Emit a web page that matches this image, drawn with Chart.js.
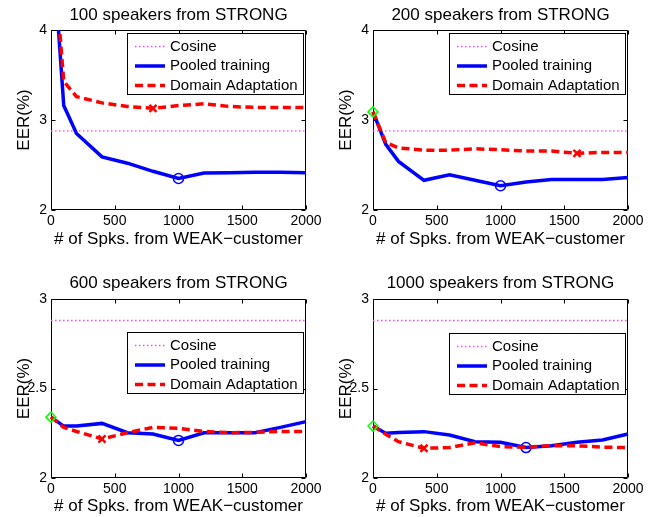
<!DOCTYPE html>
<html>
<head>
<meta charset="utf-8">
<script src="https://cdn.jsdelivr.net/npm/chart.js@4.4.1/dist/chart.umd.min.js"></script>
<style>
  html, body { margin: 0; padding: 0; background: #fff; }
  #wrap { position: relative; width: 657px; height: 517px; }
  #wrap canvas { position: absolute; }
</style>
</head>
<body>
<div id="wrap">
  <canvas id="c100" width="328" height="258" style="left:0;top:0"></canvas>
  <canvas id="c200" width="329" height="258" style="left:328px;top:0"></canvas>
  <canvas id="c600" width="328" height="259" style="left:0;top:258px"></canvas>
  <canvas id="c1000" width="329" height="259" style="left:328px;top:258px"></canvas>
</div>
<script>
// x values: number of speakers taken from WEAK-customer
const spks = [0, 100, 200, 400, 600, 800, 1000, 1200, 1400, 1600, 1800, 2000];
const cosineEER = 2.88;

// 100 speakers from STRONG (first point is above the axis)
const pooled100 = [5.2, 3.16, 2.85, 2.59, 2.52, 2.43, 2.35, 2.41, 2.415, 2.42, 2.42, 2.415];
const adapt100  = [5.2, 3.43, 3.26, 3.19, 3.15, 3.13, 3.16, 3.18, 3.15, 3.14, 3.14, 3.14];

// 200 speakers from STRONG
const pooled200 = [3.09, 2.73, 2.54, 2.33, 2.39, 2.33, 2.27, 2.31, 2.34, 2.34, 2.34, 2.36];
const adapt200  = [3.09, 2.75, 2.69, 2.665, 2.665, 2.68, 2.67, 2.655, 2.655, 2.63, 2.64, 2.64];

// 600 speakers from STRONG
const pooled600 = [2.34, 2.29, 2.29, 2.305, 2.253, 2.246, 2.21, 2.253, 2.253, 2.253, 2.283, 2.315];
const adapt600  = [2.34, 2.283, 2.26, 2.218, 2.253, 2.283, 2.277, 2.26, 2.253, 2.255, 2.26, 2.26];

// 1000 speakers from STRONG
const pooled1000 = [2.29, 2.25, 2.254, 2.259, 2.24, 2.203, 2.2, 2.17, 2.18, 2.2, 2.212, 2.246];
const adapt1000  = [2.29, 2.245, 2.203, 2.166, 2.17, 2.197, 2.175, 2.172, 2.18, 2.18, 2.172, 2.17];

const yTicksTop = [2, 3, 4];
const yTicksBottom = [2, 2.5, 3];

Chart.defaults.font.family = "'Liberation Sans', Arial, sans-serif";
Chart.defaults.color = '#000';

// box around the axes with inward tick marks (matlab style)
const framePlugin = {
  id: 'frame',
  beforeDatasetsDraw(chart) {
    const ctx = chart.ctx, a = chart.chartArea;
    const xs = chart.scales.x, ys = chart.scales.y;
    const L = Math.round(a.left) + 0.5, R = Math.round(a.right) - 0.5;
    const T = Math.round(a.top) + 0.5, B = Math.round(a.bottom) - 0.5;
    ctx.save();
    ctx.strokeStyle = '#000';
    ctx.lineWidth = 1;
    ctx.beginPath();
    ctx.rect(L, T, R - L, B - T);
    xs.ticks.forEach(t => {
      const px = Math.round(xs.getPixelForValue(t.value)) + 0.5;
      ctx.moveTo(px, B); ctx.lineTo(px, B - 4);
      ctx.moveTo(px, T); ctx.lineTo(px, T + 4);
    });
    ys.ticks.forEach(t => {
      const py = Math.round(ys.getPixelForValue(t.value)) + 0.5;
      ctx.moveTo(L, py); ctx.lineTo(L + 4, py);
      ctx.moveTo(R, py); ctx.lineTo(R - 4, py);
    });
    ctx.stroke();
    ctx.restore();
  }
};

// legend drawn inside the axes, with a black border
const legendBoxPlugin = {
  id: 'legendBox',
  afterDraw(chart, args, opts) {
    const ctx = chart.ctx, a = chart.chartArea;
    const w = 176, h = 61;
    const left = Math.round(a.right - opts.right - w);
    const top = Math.round(a.top + opts.top);
    ctx.save();
    ctx.fillStyle = '#fff';
    ctx.fillRect(left, top, w, h);
    ctx.strokeStyle = '#000';
    ctx.lineWidth = 1;
    ctx.strokeRect(left + 0.5, top + 0.5, w, h);
    ctx.font = "15px 'Liberation Sans', Arial, sans-serif";
    ctx.textBaseline = 'middle';
    chart.data.datasets.filter(d => d.label).forEach((d, i) => {
      const yy = top + 13.5 + i * 19.5;
      ctx.setLineDash(d.borderDash || []);
      ctx.strokeStyle = d.borderColor;
      ctx.lineWidth = d.borderWidth;
      ctx.beginPath();
      ctx.moveTo(left + 8, yy);
      ctx.lineTo(left + 38, yy);
      ctx.stroke();
      ctx.setLineDash([]);
      ctx.fillStyle = '#000';
      ctx.fillText(d.label, left + 43, yy);
    });
    ctx.restore();
  }
};

function argmin(arr) {
  let k = 0;
  arr.forEach((v, i) => { if (v < arr[k]) k = i; });
  return k;
}

function makeChart(id, title, pooled, adapt, yTicks, area) {
  const canvas = document.getElementById(id);
  const W = canvas.width, H = canvas.height;
  const minPooled = argmin(pooled), minAdapt = argmin(adapt);
  const lineClip = { left: 4, right: 4, top: 0, bottom: 0 };

  new Chart(canvas, {
    type: 'line',
    data: {
      datasets: [{
        label: 'Cosine',
        data: spks.map(x => ({ x: x, y: cosineEER })),
        borderColor: '#ff40ff',
        borderWidth: 1.3,
        borderDash: [1.5, 2.5],
        pointRadius: 0,
        clip: lineClip,
        order: 4
      }, {
        label: 'Pooled training',
        data: spks.map((x, i) => ({ x: x, y: pooled[i] })),
        borderColor: '#0000ff',
        borderWidth: 3.5,
        pointStyle: 'circle',
        pointRadius: c => c.dataIndex === minPooled ? 5 : 0,
        pointBorderColor: '#0000ff',
        pointBackgroundColor: 'rgba(0,0,0,0)',
        pointBorderWidth: 1.5,
        clip: lineClip,
        order: 3
      }, {
        label: 'Domain Adaptation',
        data: spks.map((x, i) => ({ x: x, y: adapt[i] })),
        borderColor: '#ff0000',
        borderWidth: 3.5,
        borderDash: [8, 4.5],
        pointStyle: 'crossRot',
        pointRadius: c => c.dataIndex === minAdapt ? 5 : 0,
        pointBorderColor: '#ff0000',
        pointBorderWidth: 2.5,
        clip: lineClip,
        order: 2
      }, {
        // shared starting point (no WEAK-customer speakers)
        label: '',
        data: [{ x: spks[0], y: pooled[0] }],
        showLine: false,
        pointStyle: 'rectRot',
        pointRadius: 5,
        pointBorderColor: '#00ff00',
        pointBackgroundColor: 'rgba(0,0,0,0)',
        pointBorderWidth: 1.5,
        clip: false,
        order: 1
      }]
    },
    options: {
      responsive: false,
      animation: false,
      events: [],
      layout: { padding: { left: 0, top: 0, right: W - area.right, bottom: 0 } },
      scales: {
        x: {
          type: 'linear',
          min: 0, max: 2000,
          grid: { display: false, drawTicks: false },
          border: { display: false },
          ticks: { stepSize: 500, padding: 3, font: { size: 14 }, callback: v => String(v) },
          title: { display: true, text: '# of Spks. from WEAK\u2212customer', font: { size: 17 }, padding: { top: 0, bottom: area.xTitlePad } },
          afterFit: s => { s.height = H - area.bottom; }
        },
        y: {
          min: yTicks[0], max: yTicks[yTicks.length - 1],
          grid: { display: false, drawTicks: false },
          border: { display: false },
          ticks: { stepSize: yTicks[1] - yTicks[0], padding: 4, font: { size: 14 }, callback: v => String(v) },
          title: { display: true, text: 'EER(%)', font: { size: 17 }, padding: { top: area.yTitlePad, bottom: 0 } },
          afterFit: s => { s.width = area.left; }
        }
      },
      plugins: {
        legend: { display: false },
        tooltip: { enabled: false },
        title: {
          display: true,
          fullSize: false,
          align: 'center',
          text: title,
          font: { size: 17, weight: 'normal' },
          color: '#000',
          padding: { top: area.titleTop, bottom: area.top - area.titleTop - 20.4 }
        },
        legendBox: { right: 3, top: area.legendTop }
      }
    },
    plugins: [framePlugin, legendBoxPlugin]
  });
}

makeChart('c100', '100 speakers from STRONG', pooled100, adapt100, yTicksTop,
  { left: 51, right: 306, top: 30, bottom: 210, titleTop: 5.5, xTitlePad: 8.3, yTitlePad: 14.3, legendTop: 3 });
makeChart('c200', '200 speakers from STRONG', pooled200, adapt200, yTicksTop,
  { left: 45, right: 300, top: 30, bottom: 210, titleTop: 5.5, xTitlePad: 8.3, yTitlePad: 8.3, legendTop: 3 });
makeChart('c600', '600 speakers from STRONG', pooled600, adapt600, yTicksBottom,
  { left: 51, right: 306, top: 41, bottom: 220, titleTop: 15.2, xTitlePad: 0.3, yTitlePad: 14.3, legendTop: 33 });
makeChart('c1000', '1000 speakers from STRONG', pooled1000, adapt1000, yTicksBottom,
  { left: 45, right: 300, top: 41, bottom: 220, titleTop: 15.2, xTitlePad: 0.3, yTitlePad: 8.3, legendTop: 34 });
</script>
</body>
</html>
